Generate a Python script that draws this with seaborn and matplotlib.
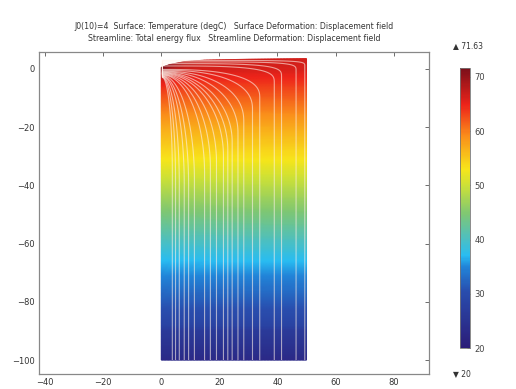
import numpy as np
import matplotlib
matplotlib.use("Agg")
import matplotlib.pyplot as plt
import seaborn as sns
from matplotlib.colors import LinearSegmentedColormap

# Temperature profile with depth (degC)
depth_y = [3.5, 0, -10, -20, -31, -45, -55, -66, -80, -88, -90, -100]
depth_T = [66.5, 66.0, 61.5, 57.0, 53.0, 46.5, 42.0, 37.0, 31.5, 28.5, 26.5, 23.0]

# Deformed top surface (y of top edge along x)
surf_x = [0, 3, 8, 15, 30, 50]
surf_y = [0.5, 1.5, 2.5, 3.0, 3.3, 3.5]

# Hot spot along the surface near the left corner
hot_x = [0, 3, 8, 15, 50]
hot_dT = [5.5, 3.5, 1.5, 0.5, 0.0]

# Streamlines of total energy flux: final x, level at x=0, depth where vertical, boxiness
stream_end_x = [49, 46, 41, 38.5, 33.5, 31, 28, 26, 24, 22.5, 21, 18.6, 16.5, 14.5, 11, 9, 7.5, 5.8, 4.5, 3.4]
stream_top_y = [2.9, 2.4, 1.8, 1.0, -0.2, -0.5, -0.8, -1.0, -1.2, -1.4, -1.6, -1.8, -2.0, -2.1, -2.3, -2.5, -2.6, -2.8, -2.9, -3.0]
stream_vert_y = [0.5, -1.0, -3.0, -5.0, -10, -14, -18, -22, -25, -28, -30, -32, -34, -36, -38, -40, -40, -40, -38, -36]
stream_box = [6, 5, 4, 3.5, 2.6, 2.4, 2.2, 2.1, 2.0, 2.0, 2.0, 2.0, 2.0, 2.0, 2.0, 2.0, 2.0, 2.0, 2.0, 2.0]

cbar_ticks = [20, 30, 40, 50, 60, 70]
t_min, t_max = 20, 71.63

# COMSOL-like rainbow
rainbow = LinearSegmentedColormap.from_list("comsol_rainbow", [
    (0.00, (0.17, 0.11, 0.47)),
    (0.20, (0.16, 0.30, 0.68)),
    (0.29, (0.13, 0.52, 0.85)),
    (0.33, (0.16, 0.74, 0.95)),
    (0.39, (0.30, 0.75, 0.76)),
    (0.48, (0.50, 0.78, 0.45)),
    (0.58, (0.80, 0.88, 0.22)),
    (0.64, (0.97, 0.90, 0.10)),
    (0.76, (0.98, 0.55, 0.10)),
    (0.87, (0.93, 0.14, 0.10)),
    (1.00, (0.48, 0.06, 0.10)),
])

sns.set_theme(style="white")
plt.rcParams["font.family"] = ["DejaVu Sans"]

fig = plt.figure(figsize=(5.16, 3.89), dpi=100)
ax = fig.add_axes([0.0756, 0.0386, 0.7554, 0.8278])

# Temperature surface on the deformed domain
xs = np.linspace(0, 50, 101)
eta = np.linspace(0, 1, 211)
X, E = np.meshgrid(xs, eta)
top = np.interp(X, surf_x, surf_y)
Y = -100 + (top + 100) * E
T = np.interp(Y, depth_y[::-1], depth_T[::-1]) + np.interp(X, hot_x, hot_dT) * np.exp((Y - top) / 4.0)
mesh = ax.pcolormesh(X, Y, T, cmap=rainbow, vmin=t_min, vmax=t_max, shading="gouraud", rasterized=True)

# Streamlines
for xe, ys, yv, n in zip(stream_end_x, stream_top_y, stream_vert_y, stream_box):
    th = np.linspace(0, np.pi / 2, 120)
    cx = xe * np.sin(th) ** (2.0 / n)
    cy = yv + (ys - yv) * np.cos(th) ** (2.0 / n)
    px = np.concatenate([[0.4], cx + 0.4, [xe + 0.4]])
    py = np.concatenate([[-1.5], cy, [-100]])
    ax.plot(px, py, color="#fff2ea", lw=0.8, alpha=0.6, solid_capstyle="butt")

ax.set_xlim(-42.1, 92.1)
ax.set_ylim(-104.8, 5.8)
ax.set_xticks([-40, -20, 0, 20, 40, 60, 80])
ax.set_yticks([0, -20, -40, -60, -80, -100])
ax.tick_params(direction="in", length=3, width=0.6, labelsize=6, colors="#555555",
               top=True, right=True, labelcolor="#333333", pad=3)
for sp in ax.spines.values():
    sp.set_color("#888888")
    sp.set_linewidth(0.9)

ax.set_title("J0(10)=4  Surface: Temperature (degC)   Surface Deformation: Displacement field\n"
             "Streamline: Total energy flux   Streamline Deformation: Displacement field",
             fontsize=5.6, color="#333333", pad=8, linespacing=1.35)

# Colorbar
cax = fig.add_axes([0.891, 0.105, 0.020, 0.72])
cb = fig.colorbar(mesh, cax=cax, ticks=cbar_ticks)
cb.outline.set_edgecolor("#777777")
cb.outline.set_linewidth(0.6)
cax.tick_params(direction="in", length=2, width=0.5, labelsize=6, colors="#444444", pad=3)

fig.text(0.877, 0.882, "\u25b2 71.63", fontsize=5.5, color="#333333", va="center")
fig.text(0.877, 0.041, "\u25bc 20", fontsize=5.5, color="#333333", va="center")

fig.savefig("out.png", dpi=100, facecolor="white")
